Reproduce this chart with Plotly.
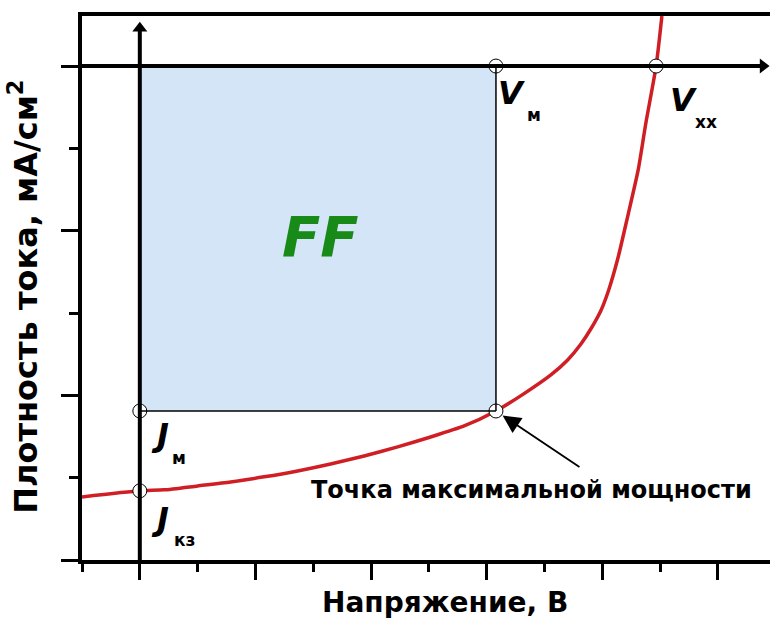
import plotly.graph_objects as go

# Illuminated J-V curve of a solar cell (voltage in V, current density in mA/cm^2)
voltage = [-0.100, 0.000, 0.042, 0.100, 0.157, 0.215, 0.273, 0.330, 0.388, 0.446, 0.503,
           0.561, 0.616, 0.664, 0.711, 0.740, 0.763, 0.780, 0.798, 0.811, 0.827, 0.844,
           0.862, 0.875, 0.893, 0.903]
current = [-26.17, -25.80, -25.74, -25.50, -25.26, -24.95, -24.59, -24.17, -23.68, -23.13, -22.53,
           -21.86, -20.95, -19.91, -18.76, -17.85, -16.88, -15.97, -14.81, -13.60, -11.66, -9.11,
           -6.31, -3.52, 0.00, 3.04]

# Characteristic points
V_M = 0.616     # voltage at the maximum power point
J_M = -20.95    # current density at the maximum power point
V_OC = 0.893    # open-circuit voltage
J_SC = -25.80   # short-circuit current density

X_RANGE = [-0.10, 1.090]
Y_RANGE = [-30.0, 3.04]

BLACK = "#000000"
RED = "#d01f24"
FILL = "#d5e5f8"
GREEN = "#178a17"
FONT = "DejaVu Sans"

fig = go.Figure()

# Fill-factor rectangle
fig.add_shape(type="rect", x0=0, x1=V_M, y0=J_M, y1=0,
              fillcolor=FILL, line_width=0, layer="below")
fig.add_shape(type="line", x0=V_M, x1=V_M, y0=J_M, y1=0,
              line=dict(color=BLACK, width=1.5))
fig.add_shape(type="line", x0=0, x1=V_M, y0=J_M, y1=J_M,
              line=dict(color=BLACK, width=1.5))

# Inner coordinate axes with arrows
fig.add_shape(type="line", x0=0, x1=0, y0=Y_RANGE[0], y1=2.2,
              line=dict(color=BLACK, width=4))
fig.add_shape(type="line", x0=X_RANGE[0], x1=1.075, y0=0, y1=0,
              line=dict(color=BLACK, width=4))
fig.add_trace(go.Scatter(x=[0], y=[2.3], mode="markers", cliponaxis=False,
                         marker=dict(symbol="triangle-up", size=13, color=BLACK),
                         hoverinfo="skip", showlegend=False))
fig.add_trace(go.Scatter(x=[1.078], y=[0], mode="markers", cliponaxis=False,
                         marker=dict(symbol="triangle-right", size=13, color=BLACK),
                         hoverinfo="skip", showlegend=False))

# J-V curve
fig.add_trace(go.Scatter(x=voltage, y=current, mode="lines",
                         line=dict(color=RED, width=3.5, shape="spline", smoothing=0.6),
                         hoverinfo="skip", showlegend=False))

# Characteristic points
fig.add_trace(go.Scatter(x=[V_M, V_OC, 0, 0, V_M], y=[0, 0, J_M, J_SC, J_M],
                         mode="markers", cliponaxis=False,
                         marker=dict(symbol="circle", size=14, color="white",
                                     line=dict(color=BLACK, width=1)),
                         hoverinfo="skip", showlegend=False))

def label(x, y, main, sub, dx, dy, sdx, sdy):
    fig.add_annotation(x=x, y=y, text=main, showarrow=False, xanchor="center", yanchor="middle",
                       xshift=dx, yshift=dy,
                       font=dict(family=FONT, size=32, color=BLACK, weight="bold", style="italic"))
    fig.add_annotation(x=x, y=y, text=sub, showarrow=False, xanchor="center", yanchor="middle",
                       xshift=sdx, yshift=sdy,
                       font=dict(family=FONT, size=17, color=BLACK, weight="bold"))

label(V_M, 0, "V", "м", 16, -27, 38, -49)
label(V_OC, 0, "V", "хх", 27, -34, 50, -56)
label(0, J_M, "J", "м", 20, -24, 39, -47)
label(0, J_SC, "J", "кз", 20, -28, 45, -49)

# Fill factor label at the rectangle centre
fig.add_annotation(x=V_M / 2, y=J_M / 2, text="FF", showarrow=False, xshift=3, yshift=2,
                   font=dict(family=FONT, size=56, color=GREEN, weight="bold", style="italic"))

# Maximum power point pointer
fig.add_annotation(x=V_M, y=J_M, ax=85, ay=57, text="", showarrow=True,
                   arrowhead=2, arrowsize=2.0, arrowwidth=1.8, arrowcolor=BLACK, standoff=8)
fig.add_annotation(x=0.678, y=-25.74, text="Точка максимальной мощности", showarrow=False,
                   font=dict(family=FONT, size=24, color=BLACK, weight="bold"))

# Axis titles
fig.add_annotation(xref="paper", yref="paper", x=0.528, y=-0.079, text="Напряжение, В",
                   showarrow=False, xanchor="center", yanchor="middle",
                   font=dict(family=FONT, size=28, color=BLACK, weight="bold"))
fig.add_annotation(xref="paper", yref="paper", x=-0.085, y=0.483,
                   text="Плотность тока, мА/см<sup>2</sup>", textangle=-90,
                   showarrow=False, xanchor="center", yanchor="middle",
                   font=dict(family=FONT, size=32, color=BLACK, weight="bold"))

fig.update_xaxes(range=X_RANGE, showgrid=False, zeroline=False, showticklabels=False,
                 showline=True, linecolor=BLACK, linewidth=4, mirror=True,
                 ticks="outside", tick0=0, dtick=0.2, ticklen=16, tickwidth=3, tickcolor=BLACK,
                 minor=dict(ticks="outside", dtick=0.1, ticklen=8, tickwidth=3, tickcolor=BLACK))
fig.update_yaxes(range=Y_RANGE, showgrid=False, zeroline=False, showticklabels=False,
                 showline=True, linecolor=BLACK, linewidth=4,
                 ticks="outside", tick0=0, dtick=10, ticklen=17, tickwidth=3, tickcolor=BLACK,
                 minor=dict(ticks="outside", dtick=5, ticklen=9, tickwidth=3, tickcolor=BLACK))

fig.update_layout(width=770, height=619, margin=dict(l=82, r=0, t=16, b=59),
                  paper_bgcolor="white", plot_bgcolor="white", showlegend=False)

fig.write_html("out.html")
